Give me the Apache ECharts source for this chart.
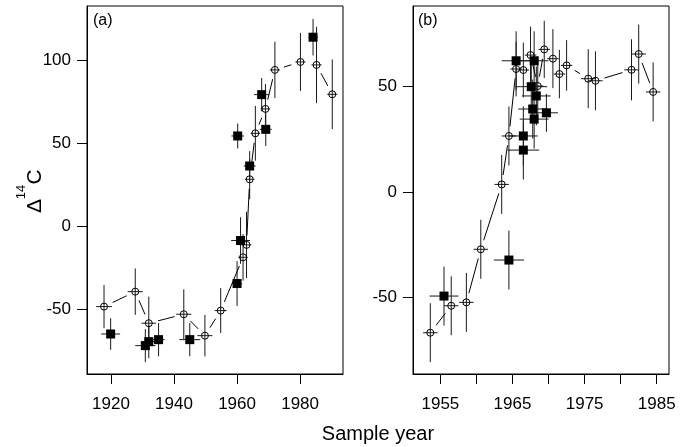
<!DOCTYPE html>
<html>
<head>
<meta charset="utf-8">
<script src="https://cdn.jsdelivr.net/npm/echarts@6/dist/echarts.min.js"></script>
<style>
html,body{margin:0;padding:0;background:#fff;}
#chart{width:689px;height:447px;}
</style>
</head>
<body>
<div id="chart"></div>
<script>
// ---------- Panel (a) ----------
const aCircYear = [1917.8, 1927.7, 1932.0, 1943.1, 1949.8, 1954.8, 1961.9, 1963.0, 1964.0, 1965.8, 1969.0, 1972.0, 1980.1, 1985.2, 1990.2];
const aCircVal  = [-48.3, -39.3, -58.3, -52.9, -65.8, -50.7, -18.6, -11.1, 28.4, 56.1, 70.8, 94.3, 99.1, 97.3, 79.6];
const aCircYErr = [13, 14, 16, 15, 12.5, 13.5, 14, 20, 12, 16.5, 15, 17, 17.5, 23, 21];
const aCircXErr = [2.5, 2.4, 2.3, 2.4, 2.4, 1.9, 1.5, 1.5, 1.5, 1.5, 1.5, 1.6, 1.6, 1.6, 1.6];

const aSqYear = [1919.9, 1930.9, 1932.0, 1935.1, 1945.0, 1960.0, 1960.2, 1961.1, 1964.0, 1967.8, 1969.1, 1984.1];
const aSqVal  = [-64.8, -71.8, -69.4, -68.2, -68.2, -34.4, 54.5, -8.5, 36.4, 79.4, 58.5, 114];
const aSqYErr = [9.5, 10, 10, 10, 10, 13.5, 7.5, 14, 9, 10, 10, 11];
const aSqXErr = [3, 3.2, 2, 1.9, 3.3, 1.6, 2, 3, 1.9, 2.4, 1.9, 1.5];

const aXTicks = [1920, 1940, 1960, 1980];
const aYTicks = [-50, 0, 50, 100];

// ---------- Panel (b) ----------
const bCircYear = [1953.6, 1956.5, 1958.6, 1960.6, 1963.5, 1964.5, 1965.5, 1966.5, 1967.5, 1968.5, 1969.4, 1970.6, 1971.5, 1972.5, 1975.5, 1976.5, 1981.5, 1982.5, 1984.5];
const bCircVal  = [-66.8, -54, -52.4, -27.2, 3.6, 26.6, 58.4, 57.9, 65, 50.3, 67.7, 63.3, 56, 60.1, 53.8, 52.8, 58, 65.5, 47.5];
const bCircYErr = [14, 14, 14, 14, 14, 14, 13, 13, 13.5, 14, 13.6, 14, 11.5, 12, 14, 14, 14.5, 14, 14];
const bCircXErr = [1, 1, 1, 1, 1, 1, 0.8, 0.8, 0.8, 0.8, 0.8, 0.8, 0.8, 0.8, 1, 1, 1, 1, 1];

const bSqYear = [1955.5, 1964.5, 1965.5, 1966.5, 1966.5, 1967.6, 1967.8, 1968.0, 1968.0, 1968.3, 1969.7];
const bSqVal  = [-49.4, -32.3, 62.3, 26.6, 19.9, 50, 39.4, 62.3, 34.6, 45.6, 37.6];
const bSqYErr = [14, 14, 14, 14, 14, 14, 14, 14, 14, 14, 9];
const bSqXErr = [2, 2.1, 2, 2, 2.2, 2.2, 2, 2, 2, 2, 1.6];

const bXTicks = [1955, 1960, 1965, 1970, 1975, 1980, 1985];
const bXLabels = [1955, 1965, 1975, 1985];
const bYTicks = [-50, 0, 50];

const xTitle = 'Sample year';
const panelLabels = ['(a)', '(b)'];

// ---------- helpers ----------
const FONT = '"Liberation Sans", Arial, Helvetica, sans-serif';
function errData(xs, ys, xe, ye) { return xs.map((x, i) => [x, ys[i], xe[i], ye[i]]); }
function segData(xs, ys) {
  const out = [];
  for (let i = 0; i < xs.length - 1; i++) out.push([xs[i], ys[i], xs[i + 1], ys[i + 1]]);
  return out;
}
function ptData(xs, ys) { return xs.map((x, i) => [x, ys[i]]); }

function renderErr(params, api) {
  const x = api.value(0), y = api.value(1), xe = api.value(2), ye = api.value(3);
  const l = api.coord([x - xe, y]), r = api.coord([x + xe, y]);
  const t = api.coord([x, y + ye]), b = api.coord([x, y - ye]);
  const st = { stroke: '#1a1a1a', lineWidth: 1 };
  return { type: 'group', children: [
    { type: 'line', shape: { x1: l[0], y1: l[1], x2: r[0], y2: r[1] }, style: st },
    { type: 'line', shape: { x1: t[0], y1: t[1], x2: b[0], y2: b[1] }, style: st }
  ]};
}
const GAP = 9.5;
function renderSeg(params, api) {
  const p1 = api.coord([api.value(0), api.value(1)]);
  const p2 = api.coord([api.value(2), api.value(3)]);
  const dx = p2[0] - p1[0], dy = p2[1] - p1[1];
  const len = Math.sqrt(dx * dx + dy * dy);
  if (len <= 2 * GAP + 1) return null;
  const ux = dx / len, uy = dy / len;
  return { type: 'line', shape: {
    x1: p1[0] + ux * GAP, y1: p1[1] + uy * GAP,
    x2: p2[0] - ux * GAP, y2: p2[1] - uy * GAP }, style: { stroke: '#000', lineWidth: 1 } };
}

function fmt(v) { return String(Math.round(v)); }

function xAxisCfg(idx, min, max, ticks, labels) {
  return {
    type: 'value', gridIndex: idx, min: min, max: max, position: 'bottom',
    splitLine: { show: false },
    axisLine: { show: true, onZero: false, lineStyle: { color: '#000', width: 1 } },
    axisTick: { show: true, inside: false, length: 10, lineStyle: { color: '#000', width: 1 }, customValues: ticks },
    axisLabel: { show: true, margin: 22, color: '#000', fontSize: 17, fontFamily: FONT, customValues: labels, formatter: fmt }
  };
}
function yAxisCfg(idx, min, max, ticks) {
  return {
    type: 'value', gridIndex: idx, min: min, max: max, position: 'left',
    splitLine: { show: false },
    axisLine: { show: true, onZero: false, lineStyle: { color: '#000', width: 1 } },
    axisTick: { show: true, inside: false, length: 10, lineStyle: { color: '#000', width: 1 }, customValues: ticks },
    axisLabel: { show: true, margin: 16, color: '#000', fontSize: 17, fontFamily: FONT, customValues: ticks, formatter: fmt }
  };
}

function panelSeries(gi, cy, cv, cxe, cye, sy, sv, sxe, sye) {
  return [
    { type: 'custom', xAxisIndex: gi, yAxisIndex: gi, z: 1, renderItem: renderErr,
      data: errData(cy, cv, cxe, cye), encode: { x: 0, y: 1 }, clip: true },
    { type: 'custom', xAxisIndex: gi, yAxisIndex: gi, z: 1, renderItem: renderErr,
      data: errData(sy, sv, sxe, sye), encode: { x: 0, y: 1 }, clip: true },
    { type: 'custom', xAxisIndex: gi, yAxisIndex: gi, z: 2, renderItem: renderSeg,
      data: segData(cy, cv), encode: { x: [0, 2], y: [1, 3] }, clip: true },
    { type: 'scatter', xAxisIndex: gi, yAxisIndex: gi, z: 3, symbol: 'circle', symbolSize: 7,
      itemStyle: { color: 'rgba(0,0,0,0)', borderColor: '#000', borderWidth: 1, opacity: 1 },
      data: ptData(cy, cv) },
    { type: 'scatter', xAxisIndex: gi, yAxisIndex: gi, z: 4, symbol: 'rect', symbolSize: 9,
      itemStyle: { color: '#000', opacity: 1 },
      data: ptData(sy, sv) }
  ];
}

const chart = echarts.init(document.getElementById('chart'), null, { renderer: 'canvas' });
chart.setOption({
  animation: false,
  backgroundColor: '#fff',
  textStyle: { fontFamily: FONT },
  grid: [
    { left: 87, top: 6, width: 256, height: 368, show: true, borderColor: '#000', borderWidth: 1, backgroundColor: 'transparent', containLabel: false, outerBoundsMode: 'none' },
    { left: 413, top: 6, width: 256, height: 368, show: true, borderColor: '#000', borderWidth: 1, backgroundColor: 'transparent', containLabel: false, outerBoundsMode: 'none' }
  ],
  xAxis: [
    xAxisCfg(0, 1912.4, 1993.6, aXTicks, aXTicks),
    xAxisCfg(1, 1951.2, 1986.7, bXTicks, bXLabels)
  ],
  yAxis: [
    yAxisCfg(0, -88.9, 132.8, aYTicks),
    yAxisCfg(1, -86.4, 88.3, bYTicks)
  ],
  graphic: [
    { type: 'text', x: 93, y: 21, style: { text: panelLabels[0], fontSize: 16, fontFamily: FONT, fill: '#000', align: 'left', verticalAlign: 'middle' } },
    { type: 'text', x: 418, y: 21, style: { text: panelLabels[1], fontSize: 16, fontFamily: FONT, fill: '#000', align: 'left', verticalAlign: 'middle' } },
    { type: 'text', x: 378, y: 434, style: { text: xTitle, fontSize: 20, fontFamily: FONT, fill: '#000', align: 'center', verticalAlign: 'middle' } },
    { type: 'text', x: 35, y: 206, rotation: Math.PI / 2, style: { text: 'Δ', fontSize: 21, fontFamily: FONT, fill: '#000', align: 'center', verticalAlign: 'middle' } },
    { type: 'text', x: 21, y: 192, rotation: Math.PI / 2, style: { text: '14', fontSize: 13, fontFamily: FONT, fill: '#000', align: 'center', verticalAlign: 'middle' } },
    { type: 'text', x: 35, y: 177, rotation: Math.PI / 2, style: { text: 'C', fontSize: 21, fontFamily: FONT, fill: '#000', align: 'center', verticalAlign: 'middle' } }
  ],
  series: [].concat(
    panelSeries(0, aCircYear, aCircVal, aCircXErr, aCircYErr, aSqYear, aSqVal, aSqXErr, aSqYErr),
    panelSeries(1, bCircYear, bCircVal, bCircXErr, bCircYErr, bSqYear, bSqVal, bSqXErr, bSqYErr)
  )
});
</script>
</body>
</html>
